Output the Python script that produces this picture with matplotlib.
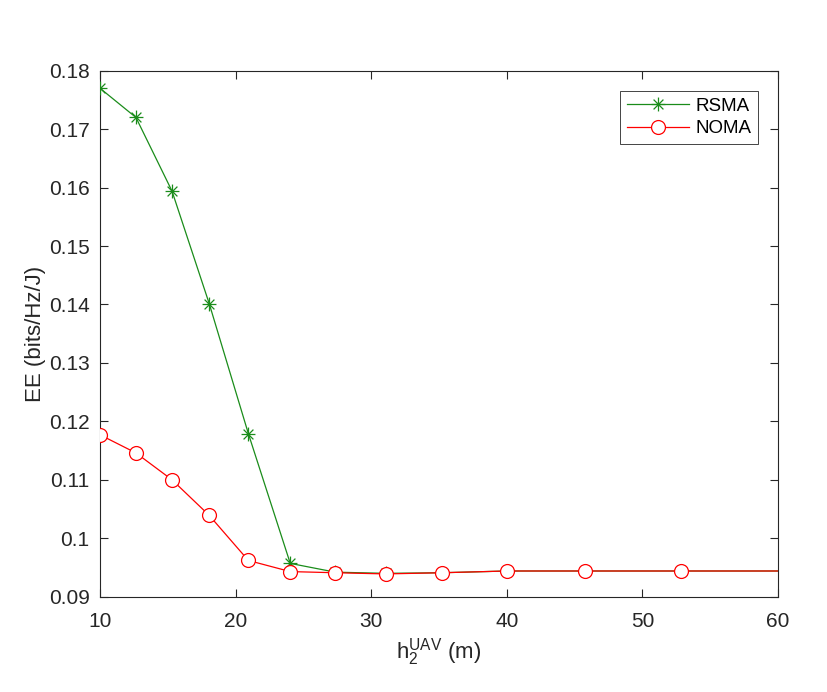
import matplotlib
matplotlib.use("Agg")
import matplotlib.pyplot as plt
from matplotlib.path import Path

# values
h2_uav = [10.0, 12.65, 15.31, 18.06, 20.94, 24.03, 27.35, 31.06, 35.19, 40.0, 45.78, 52.87, 61.5]
ee_rsma = [0.1770, 0.1720, 0.1594, 0.1401, 0.1179, 0.0957, 0.0942, 0.0940, 0.0941, 0.0944, 0.0944, 0.0944, 0.0944]
ee_noma = [0.1177, 0.1146, 0.1100, 0.1039, 0.0962, 0.0943, 0.0941, 0.0939, 0.0941, 0.0944, 0.0944, 0.0944, 0.0944]

xticks = [10, 20, 30, 40, 50, 60]
yticks = [0.09, 0.10, 0.11, 0.12, 0.13, 0.14, 0.15, 0.16, 0.17, 0.18]
ytick_labels = ["0.09", "0.1", "0.11", "0.12", "0.13", "0.14", "0.15", "0.16", "0.17", "0.18"]

plt.rcParams["font.family"] = ["Liberation Sans", "DejaVu Sans"]
plt.rcParams["mathtext.fontset"] = "custom"
plt.rcParams["mathtext.rm"] = "Liberation Sans"
plt.rcParams["mathtext.it"] = "Liberation Sans"

axis_col = (0.15, 0.15, 0.15)
green = (0.1, 0.55, 0.1)

# MATLAB-like asterisk marker (lines only)
d = 0.707
asterisk = Path(
    [(-1, 0), (1, 0), (0, -1), (0, 1), (-d, -d), (d, d), (-d, d), (d, -d)],
    [Path.MOVETO, Path.LINETO] * 4,
)

fig = plt.figure(figsize=(8.28, 6.92), dpi=100)
ax = fig.add_axes([0.1208, 0.1377, 0.8188, 0.7601])

ax.plot(h2_uav, ee_rsma, color=green, linewidth=0.9, marker=asterisk,
        markersize=10, markeredgewidth=0.9, label="RSMA", zorder=3)
ax.plot(h2_uav, ee_noma, color="red", linewidth=0.9, marker="o",
        markersize=10, markerfacecolor="white", markeredgewidth=0.9,
        label="NOMA", zorder=4)

ax.set_xlim(10, 60)
ax.set_ylim(0.09, 0.18)
ax.set_xticks(xticks)
ax.set_yticks(yticks)
ax.set_yticklabels(ytick_labels)

ax.tick_params(direction="in", length=6, width=0.8, top=True, right=True,
               labelsize=15, colors=axis_col)
ax.tick_params(axis="x", pad=11)
ax.tick_params(axis="y", pad=7.5)
for sp in ax.spines.values():
    sp.set_color(axis_col)
    sp.set_linewidth(0.8)

ax.set_xlabel(r"h$_{\mathrm{2}}^{\mathrm{UAV}}$ (m)", fontsize=16, color=axis_col, labelpad=4)
ax.set_ylabel("EE (bits/Hz/J)", fontsize=16, color=axis_col, labelpad=2)

leg = ax.legend(loc="upper right", bbox_to_anchor=(0.9705, 0.9614), borderaxespad=0,
                fontsize=13.5, frameon=True, fancybox=False, framealpha=1,
                edgecolor=axis_col, handlelength=3.3, handletextpad=0.35,
                labelspacing=0.3, borderpad=0.35)
leg.get_frame().set_linewidth(0.6)

fig.savefig("out.png", dpi=100)
